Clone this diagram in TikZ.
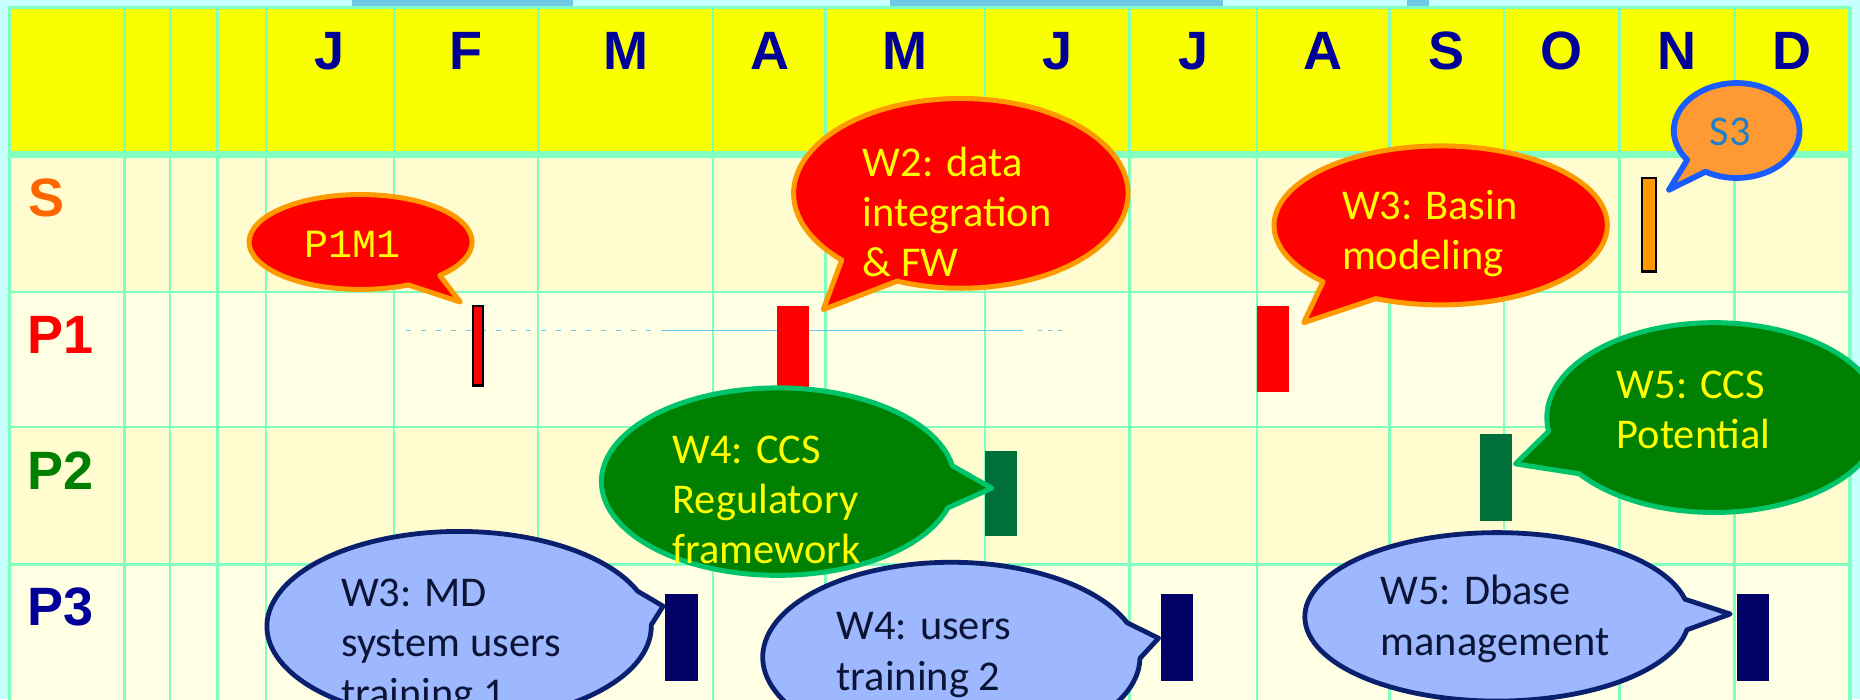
\documentclass[tikz,border=0pt]{standalone}
\usepackage{fontspec}
\setmainfont{Carlito}
\newfontfamily\arialfnt{Liberation Sans}
\newfontfamily\monofnt{Liberation Mono}
\usetikzlibrary{shapes.callouts}
\definecolor{bgc}{HTML}{C8FFFF}
\definecolor{blobc}{HTML}{6EC8E6}
\definecolor{gridc}{HTML}{80FFC0}
\definecolor{headc}{HTML}{FAFF00}
\definecolor{creamc}{HTML}{FFFDD0}
\definecolor{lightc}{HTML}{FFFFE4}
\definecolor{monc}{HTML}{000099}
\definecolor{sorange}{HTML}{FF6600}
\definecolor{pgreen}{HTML}{008000}
\definecolor{redf}{HTML}{FF0000}
\definecolor{orangeb}{HTML}{FF9900}
\definecolor{greenf}{HTML}{008000}
\definecolor{greenb}{HTML}{00C46A}
\definecolor{bluef}{HTML}{9DB8FF}
\definecolor{blueb}{HTML}{0A1F6E}
\definecolor{bluetxt}{HTML}{0C1436}
\definecolor{sthreef}{HTML}{FF9933}
\definecolor{sthreeb}{HTML}{1A5CFF}
\definecolor{sthreet}{HTML}{1F7FC8}
\definecolor{gbar}{HTML}{00703A}
\definecolor{nbar}{HTML}{000066}
\definecolor{dlinec}{HTML}{66CCEE}
\definecolor{yelt}{HTML}{FFFF00}
\newcommand{\mlines}[1]{\begin{tabular}[t]{@{}l@{}}#1\end{tabular}}
\begin{document}
\begin{tikzpicture}[x=0.59311pt, y=-0.59311pt,
  gridl/.style={draw=gridc, line width=1.2pt},
  mon/.style={font=\arialfnt\bfseries\fontsize{27}{30}\selectfont, text=monc, inner sep=0pt, anchor=base},
  rowlab/.style={font=\arialfnt\bfseries\fontsize{27}{30}\selectfont, inner sep=0pt, anchor=base west},
  bub/.style 2 args={ellipse callout, minimum width=#1*1.18622pt, minimum height=#2*1.18622pt, inner sep=0pt, outer sep=0pt, line join=round},
  redbub/.style={fill=redf, draw=orangeb, line width=2.5pt},
  greenbub/.style={fill=greenf, draw=greenb, line width=2.5pt},
  bluebub/.style={fill=bluef, draw=blueb, line width=2.4pt},
  btxt/.style={font=\fontsize{21.2}{25.1}\selectfont, inner sep=0pt, anchor=base west},
  bar/.style 2 args={minimum width=#1*0.59311pt, minimum height=#2*0.59311pt, inner sep=0pt, outer sep=0pt},
  dline/.style={draw=dlinec, line width=0.6pt}
]
\useasboundingbox (0,0) rectangle (1568,589.27);
\clip (0,0) rectangle (1568,589.27);
% background
\fill[bgc] (0,0) rectangle (1568,589.27);
\fill[blobc] (297,0) rectangle (483,4.8);
\fill[blobc] (750,0) rectangle (1031,4.8);
\fill[blobc] (1186,0) rectangle (1205,4.8);
% rows
\fill[headc] (8,6.2) rectangle (1559.5,130.3);
\fill[creamc] (8,130.3) rectangle (1559.5,246);
\fill[lightc] (8,246) rectangle (1559.5,360);
\fill[creamc] (8,360) rectangle (1559.5,476);
\fill[lightc] (8,476) rectangle (1559.5,600);
% grid
\foreach \x in {105,143.2,183.5,224.3,332,453.3,601.3,696,830.4,952,1059.6,1171.3,1268,1365.3,1462.3}
  \draw[gridl] (\x,6.2) -- (\x,600);
\foreach \y in {246,360,476}
  \draw[gridl] (8,\y) -- (1559.5,\y);
\draw[gridc, line width=3.8pt] (8,130.3) -- (1559.5,130.3);
\draw[gridc, line width=1.6pt] (8,600) -- (8,6.2) -- (1559.5,6.2) -- (1559.5,600);
% months
\node[mon] (mJa) at (278.2,58.4) {J};
\node[mon] (mFe) at (392.7,58.4) {F};
\node[mon] (mMa) at (527.3,58.4) {M};
\node[mon] (mAp) at (648.7,58.4) {A};
\node[mon] (mMy) at (763.2,58.4) {M};
\node[mon] (mJn) at (891.2,58.4) {J};
\node[mon] (mJl) at (1005.8,58.4) {J};
\node[mon] (mAu) at (1115.5,58.4) {A};
\node[mon] (mSe) at (1219.7,58.4) {S};
\node[mon] (mOc) at (1316.7,58.4) {O};
\node[mon] (mNo) at (1413.8,58.4) {N};
\node[mon] (mDe) at (1510.9,58.4) {D};
% row labels
\node[rowlab, text=sorange] (lS) at (24,182.7) {S};
\node[rowlab, text=redf] (lP1) at (23,297.8) {P1};
\node[rowlab, text=pgreen] (lP2) at (23,413) {P2};
\node[rowlab, text=monc] (lP3) at (23,527.7) {P3};
% dashed line in P1 row
\draw[dline, dash pattern=on 2.5pt off 5pt] (342,278.5) -- (561,278.5);
\draw[dline] (561,278.5) -- (862,278.5);
\draw[dline, dash pattern=on 2pt off 3pt] (875,278.5) -- (900,278.5);
% bars
\node[bar={12}{79}, fill=orangeb, draw=black, line width=1.2pt] (barS) at (1390,189.5) {};
\node[bar={8.5}{67}, fill=redf, draw=black, line width=1.2pt] (barP1a) at (402.75,291.5) {};
\node[bar={26.4}{72}, fill=redf] (barP1b) at (668.5,294) {};
\node[bar={27}{72}, fill=redf] (barP1c) at (1073.1,294.1) {};
\node[bar={27}{72}, fill=gbar] (barP2a) at (843.5,416) {};
\node[bar={27}{73}, fill=gbar] (barP2b) at (1261.5,402.5) {};
\node[bar={27}{73}, fill=nbar] (barP3a) at (574.5,537.5) {};
\node[bar={26.6}{73}, fill=nbar] (barP3b) at (992,537.5) {};
\node[bar={27}{73}, fill=nbar] (barP3c) at (1477.5,537.5) {};
% pointer tips
\coordinate (tP1M1) at (388,254.6);
\coordinate (tW2) at (694,261);
\coordinate (tW3) at (1099,272);
\coordinate (tS3) at (1407,160);
\coordinate (tW4) at (836,411.5);
\coordinate (tW5) at (1277.6,391);
\coordinate (tMD) at (559,511);
\coordinate (tU2) at (976.7,538);
\coordinate (tDB) at (1458.6,517.6);
% red bubbles
\node[redbub, bub={94}{40}, callout absolute pointer={(tP1M1)}, callout pointer arc=20] (bP1M1) at (304,204) {};
\node[font=\monofnt\fontsize{20}{24}\selectfont, text=yelt, inner sep=0pt, anchor=base] (xP1M1) at (297.5,216.7) {P1M1};
\node[redbub, bub={141}{80}, callout absolute pointer={(tW2)}, callout pointer arc=23] (bW2) at (810,163) {};
\node[btxt, text=yelt] (xW2) at (727,148.4) {\mlines{W2: data\\integration\\\& FW}};
\node[redbub, bub={140.5}{67}, callout absolute pointer={(tW3)}, callout pointer arc=22] (bW3) at (1214.5,190) {};
\node[btxt, text=yelt] (xW3) at (1131,185) {\mlines{W3: Basin\\modeling}};
% S3
\node[bub={53}{40}, fill=sthreef, draw=sthreeb, line width=2.9pt, callout absolute pointer={(tS3)}, callout pointer arc=22] (bS3) at (1464,110) {};
\node[font=\fontsize{21.2}{25.1}\selectfont, text=sthreet, inner sep=0pt, anchor=base] (xS3) at (1458.6,122.8) {S3};
% green bubbles
\node[greenbub, bub={149}{79}, callout absolute pointer={(tW4)}, callout pointer arc=26] (bW4) at (656,406) {};
\node[btxt, text=yelt] (xW4) at (566.7,390.6) {\mlines{W4: CCS\\Regulatory\\framework}};
\node[greenbub, bub={141}{80}, callout absolute pointer={(tW5)}, callout pointer arc=28] (bW5) at (1445,352) {};
\node[btxt, text=yelt] (xW5) at (1362.6,335.8) {\mlines{W5: CCS\\Potential}};
% blue bubbles
\node[bluebub, bub={162}{80}, callout absolute pointer={(tMD)}, callout pointer arc=21] (bMD) at (387,528) {};
\node[btxt, text=bluetxt] (xMD) at (287.3,511.4) {\mlines{W3: MD\\system users\\training 1}};
\node[bluebub, bub={159}{80}, callout absolute pointer={(tU2)}, callout pointer arc=22] (bU2) at (802,554) {};
\node[btxt, text=bluetxt] (xU2) at (705,539.5) {\mlines{W4: users\\training 2}};
\node[bluebub, bub={162}{71}, callout absolute pointer={(tDB)}, callout pointer arc=21] (bDB) at (1262,520) {};
\node[btxt, text=bluetxt] (xDB) at (1163.6,510) {\mlines{W5: Dbase\\management}};
\end{tikzpicture}
\end{document}
